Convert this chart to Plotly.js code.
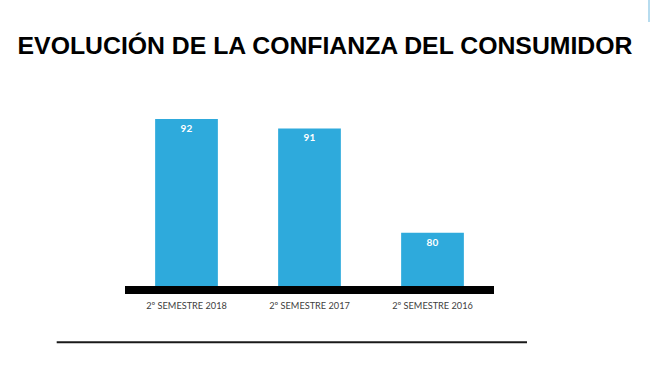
<!DOCTYPE html>
<html>
<head>
<meta charset="utf-8">
<script src="https://cdn.plot.ly/plotly-3.0.1.min.js"></script>
<style>html,body{margin:0;padding:0;background:#fff;}#chart{width:650px;height:386px;}</style>
</head>
<body>
<div id="chart"></div>
<script>
var categories = ["2º SEMESTRE 2018", "2º SEMESTRE 2017", "2º SEMESTRE 2016"];
var values = [92, 91, 80];
var labels = ["92", "91", "80"];
var titleText = "EVOLUCIÓN DE LA CONFIANZA DEL CONSUMIDOR";

var trace = {
  type: "bar",
  x: categories,
  y: values,
  text: labels,
  textposition: "inside",
  insidetextanchor: "end",
  textangle: 0,
  textfont: {family: "Lato, 'Open Sans', sans-serif", size: 10, color: "#ffffff", weight: "bold"},
  marker: {color: "#2eaadc"},
  width: 0.51,
  hoverinfo: "none",
  cliponaxis: false
};

var layout = {
  width: 650, height: 386,
  margin: {l: 125, r: 156, t: 100, b: 100},
  paper_bgcolor: "#ffffff",
  plot_bgcolor: "#ffffff",
  showlegend: false,
  title: {
    text: titleText,
    font: {family: "'Liberation Sans', Arial, sans-serif", size: 24.8, color: "#000000", weight: "bold"},
    x: 325 / 650, xanchor: "center", xref: "container",
    y: 1 - 45/386, yanchor: "middle", yref: "container"
  },
  xaxis: {
    type: "category",
    range: [-0.5, 2.5],
    showgrid: false, zeroline: false,
    showline: true, linecolor: "#000000", linewidth: 8,
    ticks: "", ticklen: 0,
    ticklabelstandoff: 4,
    tickfont: {family: "Lato, 'Open Sans', sans-serif", size: 9.2, color: "#404040"},
    fixedrange: true
  },
  yaxis: {
    range: [74.37, 94.0],
    showgrid: false, zeroline: false, showline: false,
    showticklabels: false, ticks: "",
    fixedrange: true
  },
  shapes: [
    {type: "line", xref: "paper", yref: "paper",
     x0: (56.7 - 125) / 369, x1: (527 - 125) / 369,
     y0: (286 - 342.3) / 186, y1: (286 - 342.3) / 186,
     line: {color: "#1a1a1a", width: 2}},
    {type: "line", xref: "paper", yref: "paper",
     x0: (649 - 125) / 369, x1: (649 - 125) / 369,
     y0: (286 - 0) / 186, y1: (286 - 22) / 186,
     line: {color: "#9fd0ea", width: 1.5}}
  ]
};

Plotly.newPlot("chart", [trace], layout, {staticPlot: true, displayModeBar: false});
</script>
</body>
</html>
